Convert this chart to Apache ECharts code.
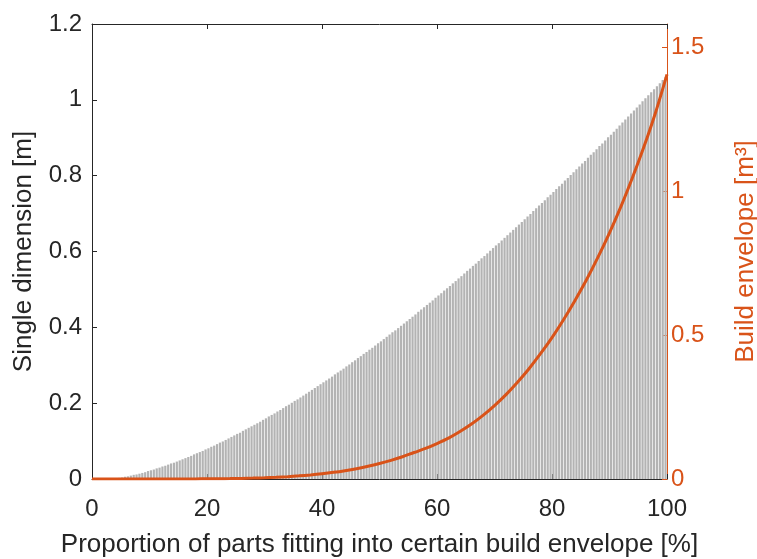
<!DOCTYPE html>
<html><head><meta charset="utf-8">
<script src="https://cdn.jsdelivr.net/npm/echarts@6/dist/echarts.min.js"></script>
<style>html,body{margin:0;padding:0;background:#fff}#c{width:757px;height:559px}</style>
</head><body><div id="c"></div>
<script>
// x tick labels (percent)
const xTicks = [0, 20, 40, 60, 80, 100];
// Single dimension [m] of each part, sorted; one bar every 0.5 %
const barHeights = [
0,0,0,0,0,0,
0.000,0.001,0.002,0.003,0.004,0.006,0.007,0.009,0.011,0.012,
0.014,0.016,0.018,0.021,0.023,0.025,0.028,0.030,0.033,0.035,
0.038,0.041,0.043,0.046,0.049,0.052,0.055,0.058,0.061,0.065,
0.068,0.071,0.074,0.078,0.081,0.085,0.088,0.092,0.096,0.099,
0.103,0.107,0.111,0.115,0.119,0.122,0.127,0.131,0.135,0.139,
0.143,0.147,0.151,0.156,0.160,0.165,0.169,0.173,0.178,0.182,
0.187,0.192,0.196,0.201,0.206,0.210,0.215,0.220,0.225,0.230,
0.235,0.240,0.245,0.250,0.255,0.260,0.265,0.270,0.276,0.281,
0.286,0.291,0.297,0.302,0.308,0.313,0.319,0.324,0.330,0.335,
0.341,0.346,0.352,0.358,0.363,0.369,0.375,0.381,0.387,0.392,
0.398,0.404,0.410,0.416,0.422,0.428,0.434,0.441,0.447,0.453,
0.459,0.465,0.471,0.478,0.484,0.490,0.497,0.503,0.509,0.516,
0.522,0.529,0.535,0.542,0.549,0.555,0.562,0.568,0.575,0.582,
0.588,0.595,0.602,0.609,0.616,0.622,0.629,0.636,0.643,0.650,
0.657,0.664,0.671,0.678,0.685,0.692,0.699,0.707,0.714,0.721,
0.728,0.735,0.743,0.750,0.757,0.765,0.772,0.779,0.787,0.794,
0.802,0.809,0.817,0.824,0.832,0.839,0.847,0.855,0.862,0.870,
0.878,0.885,0.893,0.901,0.908,0.916,0.924,0.932,0.940,0.948,
0.956,0.964,0.972,0.980,0.988,0.996,1.004,1.012,1.020,1.028,
1.036,1.044,1.052,1.060
];
// Build envelope [m^3], every 2 %
const envelope = [
0,0,0,0,0,0,
0.000,0.0001,0.0002,0.0003,0.0006,0.0009,0.0014,0.0021,0.0031,0.0044,
0.0061,0.0082,0.0109,0.0142,0.0182,0.0231,0.029,0.0359,0.044,0.0536,
0.0646,0.0773,0.0919,0.106,0.123,0.142,0.165,0.191,0.221,0.255,
0.293,0.336,0.383,0.435,0.491,0.553,0.62,0.6917,0.7702,0.8549,
0.9466,1.0468,1.1543,1.272,1.405
];
const leftTicks = [0, 0.2, 0.4, 0.6, 0.8, 1, 1.2];
const rightTicks = [0, 0.5, 1, 1.5];

const dark = '#262626';
const orange = '#D95319';
const font = 'Liberation Sans, Arial, Helvetica, sans-serif';

const chart = echarts.init(document.getElementById('c'), null, {renderer: 'canvas'});
chart.setOption({
  animation: false,
  backgroundColor: '#fff',
  grid: {left: 92, right: 90, top: 24, bottom: 80, outerBoundsMode: 'none', containLabel: false},
  xAxis: [{
    type: 'value', min: xTicks[0], max: xTicks[xTicks.length - 1], interval: 20, position: 'bottom',
    axisLine: {onZero: false, lineStyle: {color: dark, width: 1}},
    axisTick: {inside: true, length: 5, lineStyle: {color: dark}},
    axisLabel: {fontSize: 24, color: dark, margin: 18, fontFamily: font},
    splitLine: {show: false},
    name: 'Proportion of parts fitting into certain build envelope [%]',
    nameLocation: 'middle', nameGap: 53,
    nameTextStyle: {fontSize: 26, color: dark, fontFamily: font}
  }, {
    type: 'value', min: xTicks[0], max: xTicks[xTicks.length - 1], interval: 20, position: 'top',
    axisLine: {onZero: false, lineStyle: {color: dark, width: 1}},
    axisTick: {inside: true, length: 5, lineStyle: {color: dark}},
    axisLabel: {show: false},
    splitLine: {show: false}
  }],
  yAxis: [{
    type: 'value', min: leftTicks[0], max: leftTicks[leftTicks.length - 1], interval: 0.2, position: 'left',
    axisLine: {show: true, onZero: false, lineStyle: {color: dark, width: 1}},
    axisTick: {show: true, inside: true, length: 5, lineStyle: {color: dark}},
    axisLabel: {fontSize: 24, color: dark, margin: 10, fontFamily: font},
    splitLine: {show: false},
    name: 'Single dimension [m]', nameLocation: 'middle', nameRotate: 90, nameGap: 55,
    nameTextStyle: {fontSize: 26, color: dark, fontFamily: font}
  }, {
    type: 'value', min: rightTicks[0], max: 1.58, interval: 0.5, position: 'right',
    axisLine: {show: true, onZero: false, lineStyle: {color: orange, width: 1}},
    axisTick: {show: true, inside: true, length: 5, lineStyle: {color: orange}},
    axisLabel: {fontSize: 24, color: orange, margin: 4, fontFamily: font, showMaxLabel: false},
    splitLine: {show: false},
    name: 'Build envelope [m³]', nameLocation: 'middle', nameRotate: 90, nameGap: 66,
    nameTextStyle: {fontSize: 26, color: orange, fontFamily: font}
  }],
  series: [{
    type: 'bar', xAxisIndex: 0, yAxisIndex: 0,
    data: barHeights.map((h, i) => [(i + 0.5) * 0.5, h]),
    barWidth: 2.2,
    itemStyle: {color: '#b3b3b3'},
    silent: true
  }, {
    type: 'line', xAxisIndex: 0, yAxisIndex: 1,
    data: envelope.map((v, i) => [i * 2, v]),
    showSymbol: false, smooth: 0.3,
    lineStyle: {color: orange, width: 3},
    silent: true, z: 5
  }]
});
</script></body></html>
